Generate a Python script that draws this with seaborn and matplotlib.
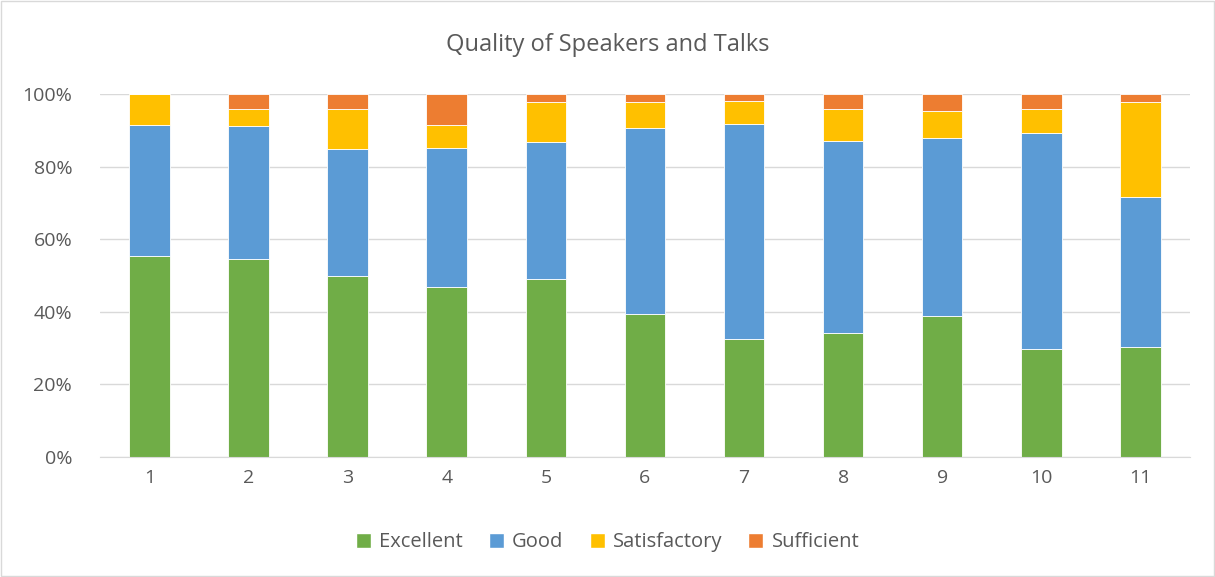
import matplotlib
matplotlib.use("Agg")
import matplotlib.pyplot as plt
import numpy as np
import pandas as pd
import seaborn as sns
from matplotlib.patches import Patch
from matplotlib.ticker import PercentFormatter

talks = [str(i) for i in range(1, 12)]
excellent = [55.4, 54.5, 50.0, 46.8, 49.0, 39.4, 32.5, 34.2, 38.8, 29.8, 30.3]
good = [36.1, 36.8, 34.8, 38.4, 37.7, 51.3, 59.3, 53.0, 49.0, 59.5, 41.3]
satisfactory = [8.5, 4.5, 11.0, 6.3, 11.2, 7.2, 6.4, 8.7, 7.4, 6.6, 26.3]
sufficient = [0.0, 4.2, 4.2, 8.5, 2.1, 2.1, 1.8, 4.1, 4.8, 4.1, 2.1]

series = {
    "Excellent": (excellent, "#70AD47"),
    "Good": (good, "#5B9BD5"),
    "Satisfactory": (satisfactory, "#FFC000"),
    "Sufficient": (sufficient, "#ED7D31"),
}

sns.set_style("white")
plt.rcParams["font.family"] = ["Open Sans", "DejaVu Sans"]
text_col = "#595959"

fig = plt.figure(figsize=(12.15, 5.77), dpi=100)
ax = fig.add_axes([0.0823, 0.208, 0.897, 0.629])

bottom = np.zeros(len(talks))
for name, (vals, col) in series.items():
    df = pd.DataFrame({"talk": talks, "value": vals})
    sns.barplot(data=df, x="talk", y="value", color=col, width=0.41,
                bottom=bottom, ax=ax, edgecolor="white", linewidth=0.6,
                saturation=1)
    bottom = bottom + np.array(vals)

ax.set_ylim(0, 100)
ax.set_xlim(-0.5, len(talks) - 0.5)
ax.set_yticks(np.arange(0, 101, 20))
ax.yaxis.set_major_formatter(PercentFormatter(decimals=0))
ax.yaxis.grid(True, color="#D9D9D9", linewidth=1)
ax.set_axisbelow(True)
ax.set_xlabel("")
ax.set_ylabel("")
for s in ["top", "right", "left"]:
    ax.spines[s].set_visible(False)
ax.spines["bottom"].set_color("#D9D9D9")
ax.tick_params(axis="both", length=0, labelsize=14, colors=text_col)
ax.tick_params(axis="y", pad=20)
ax.tick_params(axis="x", pad=9)

fig.text(0.5, 0.922, "Quality of Speakers and Talks", ha="center", va="center",
         fontsize=17, color=text_col)

handles = [Patch(facecolor=c, label=n) for n, (v, c) in series.items()]
fig.legend(handles=handles, loc="center", bbox_to_anchor=(0.5, 0.06), ncol=4,
           frameon=False, fontsize=14.5, labelcolor=text_col,
           handlelength=0.75, handleheight=0.75, handletextpad=0.4,
           columnspacing=1.3)

fig.patches.append(plt.Rectangle((0.001, 0.001), 0.998, 0.997, transform=fig.transFigure,
                                 fill=False, edgecolor="#D9D9D9", linewidth=1))

fig.savefig("out.png", dpi=100)
